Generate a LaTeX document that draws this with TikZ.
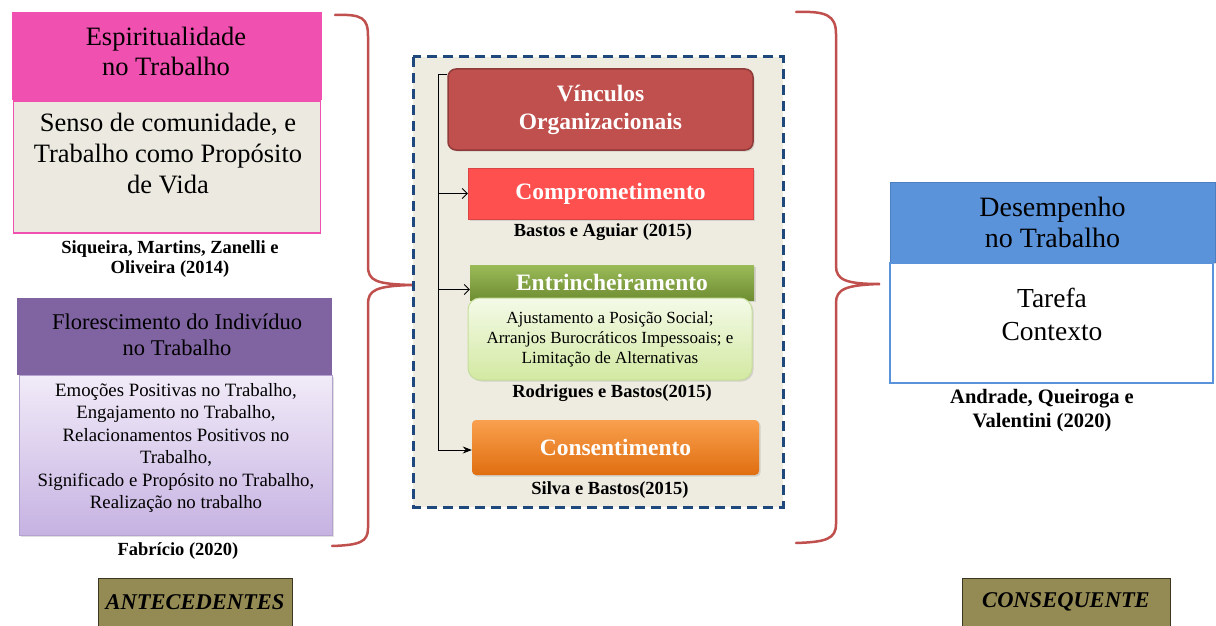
\documentclass[tikz,border=0pt]{standalone}
\usepackage{fontspec}
\setmainfont{Liberation Serif}
\usetikzlibrary{arrows.meta,calc,shadows}

\definecolor{pinkhd}{HTML}{F050B0}
\definecolor{beigebg}{HTML}{ECEAE0}
\definecolor{purplehd}{HTML}{8064A2}
\definecolor{purplelt}{HTML}{F1EBF8}
\definecolor{purpledk}{HTML}{C6B2E2}
\definecolor{purpleln}{HTML}{B4A2CE}
\definecolor{olivebox}{HTML}{948A54}
\definecolor{olivedk}{HTML}{3B3722}
\definecolor{bracered}{HTML}{C0504D}
\definecolor{panelbg}{HTML}{EEECE1}
\definecolor{navy}{HTML}{1F497D}
\definecolor{vincfill}{HTML}{C0504D}
\definecolor{vincline}{HTML}{8E3B39}
\definecolor{compfill}{HTML}{FF5050}
\definecolor{greentop}{HTML}{9BBB59}
\definecolor{greenbot}{HTML}{6F8D32}
\definecolor{lgtop}{HTML}{F4FAE8}
\definecolor{lgbot}{HTML}{D3E9A2}
\definecolor{lgline}{HTML}{C6DE9C}
\definecolor{orgtop}{HTML}{F9A04E}
\definecolor{orgbot}{HTML}{E06E10}
\definecolor{bluehd}{HTML}{5B93DB}
\definecolor{blueln}{HTML}{4A7FC4}

\tikzset{
  box/.style={rectangle, inner sep=0pt, align=center},
  txt/.style={inner sep=0pt, align=center},
  cite/.style={txt, font=\fontsize{18.5}{19.5}\selectfont\bfseries},
  label/.style={box, fill=olivebox, draw=olivedk, line width=1pt,
    font=\fontsize{22.5}{26}\selectfont\bfseries\itshape},
  brace/.style={draw=bracered, line width=2.5pt, line cap=round},
  openarrow/.style={-{Straight Barb[length=5pt,width=10pt]}, line width=0.8pt},
  fullarrow/.style={-{Stealth[length=9pt,width=7pt]}, line width=0.8pt},
  softshadow/.style={drop shadow={shadow xshift=1.5pt, shadow yshift=-1.5pt, opacity=0.25}},
}

\begin{document}
\begin{tikzpicture}[x=1pt,y=-1pt]
\useasboundingbox (0,0) rectangle (1216,626);

% ---------- antecedents ----------
\node[box, fill=pinkhd, minimum width=310pt, minimum height=88pt] (esphd) at (167,56) {};
\node[txt, font=\fontsize{26.5}{30}\selectfont] (esphdtxt) at (166,51) {Espiritualidade\\no Trabalho};
\node[box, fill=beigebg, draw=pinkhd, line width=1.5pt, minimum width=307pt,
      minimum height=132pt, anchor=north] (espbd) at (167,100) {};
\node[txt, font=\fontsize{26.5}{31}\selectfont] (espbdtxt) at (168,154)
      {Senso de comunidade, e\\Trabalho como Propósito\\de Vida};
\node[cite] (espcite) at (170,259) {Siqueira, Martins, Zanelli e\\Oliveira (2014)};

\node[box, fill=purplehd, minimum width=315pt, minimum height=77pt] (florhd) at (174.5,336.5) {};
\node[txt, font=\fontsize{22.5}{26}\selectfont] (florhdtxt) at (177,334.5)
      {Florescimento do Indivíduo\\no Trabalho};
\node[box, top color=purplelt, bottom color=purpledk, draw=purpleln, line width=0.8pt,
      minimum width=313pt, minimum height=160pt, anchor=north, softshadow] (florbd) at (175.5,375) {};
\node[txt, font=\fontsize{18.8}{22.5}\selectfont] (florbdtxt) at (176,448)
      {Emoções Positivas no Trabalho,\\Engajamento no Trabalho,\\Relacionamentos Positivos no\\Trabalho,\\Significado e Propósito no Trabalho,\\Realização no trabalho};
\node[cite] (florcite) at (178,551) {Fabrício (2020)};

\node[label, minimum width=194pt, minimum height=48pt] (ante) at (195,602) {ANTECEDENTES};

% left brace
\draw[brace] (335,15) .. controls (362,14) and (368,18) .. (368,36) -- (368,266)
  .. controls (368,281) and (376,284) .. (412,285)
  .. controls (376,286) and (368,290) .. (368,304) -- (368,528)
  .. controls (368,542) and (360,545) .. (332,546);

% ---------- organisational bonds panel ----------
\draw[fill=panelbg, draw=navy, line width=3pt, dash pattern=on 10pt off 6pt]
  (413,57) rectangle (783,507);

\node[box, rounded corners=8pt, fill=vincfill, draw=vincline, line width=1.5pt,
      minimum width=305pt, minimum height=81pt, text=white, softshadow,
      font=\fontsize{23.5}{28}\selectfont\bfseries] (vinc) at (600.5,109.5)
      {Vínculos\\Organizacionais};

\node[box, fill=compfill, draw=compfill!85!black, line width=0.5pt,
      minimum width=285pt, minimum height=51pt, text=white, softshadow,
      font=\fontsize{23.5}{26}\selectfont\bfseries] (comp) at (610.5,193.5) {Comprometimento};
\node[txt, font=\fontsize{18.5}{20}\selectfont\bfseries] (compcite) at (603,232) {Bastos e Aguiar (2015)};

\node[box, top color=greentop, bottom color=greenbot, minimum width=284pt,
      minimum height=35pt, text=white, softshadow,
      font=\fontsize{23.5}{26}\selectfont\bfseries] (entr) at (612,282.5) {Entrincheiramento};
\node[box, rounded corners=12pt, top color=lgtop, bottom color=lgbot, draw=lgline,
      line width=1pt, minimum width=284pt, minimum height=82pt, softshadow,
      font=\fontsize{17}{20}\selectfont] (entrbd) at (610,339)
      {Ajustamento a Posição Social;\\Arranjos Burocráticos Impessoais; e\\Limitação de Alternativas};
\node[txt, font=\fontsize{18.5}{20}\selectfont\bfseries] (entrcite) at (612,393) {Rodrigues e Bastos(2015)};

\node[box, rounded corners=4pt, top color=orgtop, bottom color=orgbot,
      minimum width=287pt, minimum height=55pt, text=white, softshadow,
      font=\fontsize{23.5}{26}\selectfont\bfseries] (cons) at (615.5,447.5) {Consentimento};
\node[txt, font=\fontsize{18.5}{20}\selectfont\bfseries] (conscite) at (610,490) {Silva e Bastos(2015)};

% tree connectors
\coordinate (trTop) at (438,74);
\coordinate (trBot) at (438,450);
\draw[line width=0.8pt] (trTop -| vinc.west) -- (trTop) -- (trBot);
\draw[openarrow] (trTop |- comp.west) -- (comp.west);
\coordinate (entrIn) at ($(entr.west)+(0,7)$);
\draw[openarrow] (trTop |- entrIn) -- (entrIn);
\draw[fullarrow] (trBot) -- (trBot -| cons.west);

% right brace
\draw[brace] (796,12) .. controls (826,11) and (836,15) .. (836,34) -- (836,266)
  .. controls (836,280) and (846,284) .. (880,284)
  .. controls (846,285) and (836,289) .. (836,303) -- (836,524)
  .. controls (836,539) and (826,542) .. (796,543);

% ---------- consequent ----------
\node[box, fill=bluehd, draw=blueln, line width=0.8pt, minimum width=325pt,
      minimum height=80pt, softshadow,
      font=\fontsize{28}{31}\selectfont] (deshd) at (1052.5,222) {Desempenho\\no Trabalho};
\node[box, fill=white, draw=bluehd, line width=2pt, minimum width=323pt,
      minimum height=120pt, anchor=north] (desbd) at (1051.5,262) {};
\node[txt, font=\fontsize{27.5}{33}\selectfont] (desbdtxt) at (1052,314.5) {Tarefa\\Contexto};
\node[txt, font=\fontsize{20.5}{24}\selectfont\bfseries] (descite) at (1042,411)
      {Andrade, Queiroga e\\Valentini (2020)};

\node[label, minimum width=208pt, minimum height=48pt] (cnsq) at (1066,602) {CONSEQUENTE};

\end{tikzpicture}
\end{document}
